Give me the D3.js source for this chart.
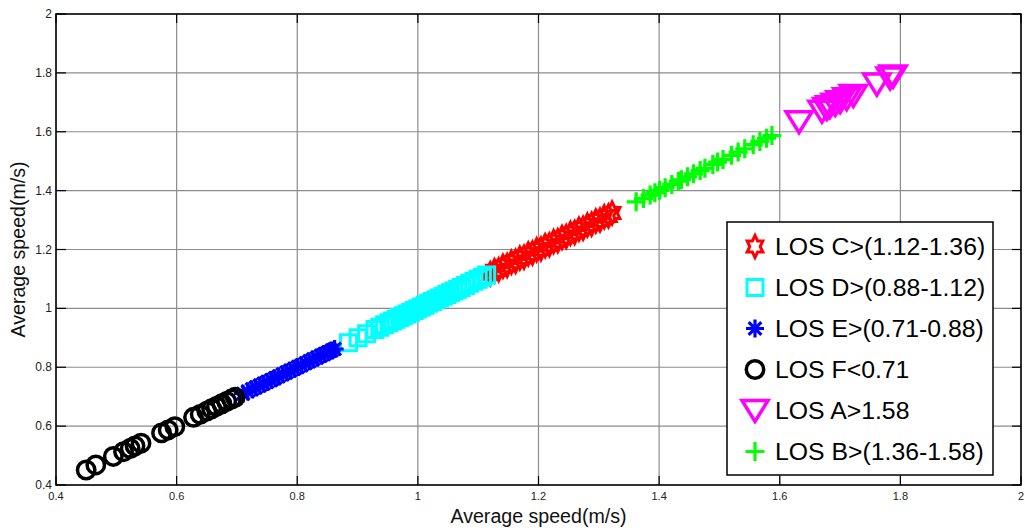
<!DOCTYPE html>
<html>
<head>
<meta charset="utf-8">
<script src="https://cdn.jsdelivr.net/npm/d3@7"></script>
<style>
  html, body { margin: 0; padding: 0; background: #fff; }
  svg { display: block; font-family: Arial, "Liberation Sans", sans-serif; }
</style>
</head>
<body>
<svg id="chart" width="1025" height="531"></svg>
<script>
// values, [average speed x, average speed y]
var losC = [[1.120,1.118],[1.127,1.128],[1.134,1.131],[1.141,1.143],[1.148,1.146],[1.155,1.157],[1.162,1.160],
  [1.169,1.171],[1.176,1.174],[1.183,1.185],[1.190,1.188],[1.197,1.199],[1.204,1.202],[1.211,1.213],[1.218,1.216],
  [1.225,1.227],[1.232,1.230],[1.239,1.241],[1.246,1.244],[1.253,1.255],[1.260,1.258],[1.267,1.269],[1.274,1.272],
  [1.281,1.283],[1.288,1.286],[1.295,1.297],[1.302,1.300],[1.309,1.311],[1.316,1.314],[1.322,1.324]]
var losD = [[0.885,0.883],[0.901,0.900],[0.915,0.914],[0.929,0.928],[0.937,0.936],[0.945,0.944],[0.952,0.951],
  [0.958,0.957],[0.964,0.963],[0.970,0.969],[0.976,0.975],[0.982,0.981],[0.988,0.987],[0.994,0.993],[1.000,0.999],
  [1.006,1.005],[1.012,1.011],[1.018,1.017],[1.024,1.023],[1.030,1.029],[1.036,1.035],[1.042,1.041],[1.048,1.047],
  [1.054,1.053],[1.060,1.059],[1.066,1.065],[1.072,1.071],[1.079,1.078],[1.086,1.085],[1.093,1.092],[1.100,1.099],
  [1.107,1.106],[1.114,1.113]]
var losE = [[0.710,0.710],[0.718,0.718],[0.725,0.725],[0.731,0.731],[0.738,0.738],[0.744,0.744],[0.750,0.750],
  [0.757,0.757],[0.763,0.763],[0.769,0.769],[0.776,0.776],[0.782,0.782],[0.788,0.788],[0.795,0.795],[0.801,0.801],
  [0.807,0.807],[0.814,0.814],[0.820,0.820],[0.826,0.826],[0.833,0.833],[0.839,0.839],[0.845,0.845],[0.851,0.851],
  [0.857,0.857],[0.862,0.862]]
var losF = [[0.450,0.451],[0.466,0.468],[0.495,0.497],[0.512,0.513],[0.523,0.524],[0.531,0.533],[0.541,0.542],
  [0.575,0.577],[0.586,0.587],[0.597,0.598],[0.628,0.630],[0.639,0.640],[0.650,0.651],[0.658,0.659],[0.666,0.667],
  [0.675,0.676],[0.683,0.684],[0.691,0.692],[0.697,0.698]]
var losA = [[1.632,1.634],[1.670,1.670],[1.678,1.679],[1.683,1.685],[1.692,1.693],[1.700,1.702],[1.711,1.712],
  [1.722,1.723],[1.761,1.762],[1.783,1.783],[1.788,1.789]]
var losB = [[1.362,1.362],[1.374,1.373],[1.385,1.385],[1.393,1.393],[1.401,1.401],[1.410,1.410],[1.421,1.421],
  [1.432,1.432],[1.437,1.437],[1.447,1.447],[1.457,1.457],[1.468,1.468],[1.476,1.476],[1.489,1.489],[1.497,1.497],
  [1.506,1.506],[1.520,1.520],[1.531,1.531],[1.542,1.542],[1.556,1.556],[1.567,1.567],[1.578,1.578],[1.587,1.587]]

var legendLabels = ["LOS C>(1.12-1.36)", "LOS D>(0.88-1.12)", "LOS E>(0.71-0.88)", "LOS F<0.71", "LOS A>1.58", "LOS B>(1.36-1.58)"]
var tickVals = [0.4, 0.6, 0.8, 1, 1.2, 1.4, 1.6, 1.8, 2]
var tickLabels = ["0.4", "0.6", "0.8", "1", "1.2", "1.4", "1.6", "1.8", "2"]

var series = [
  { data: losC, marker: "hexagram", color: "#ff0000" },
  { data: losD, marker: "square", color: "#00ffff" },
  { data: losE, marker: "asterisk", color: "#0000ff" },
  { data: losF, marker: "circle", color: "#000000" },
  { data: losA, marker: "triangle", color: "#ff00ff" },
  { data: losB, marker: "plus", color: "#00ff00" }
]

var pL = 56, pT = 14, pR = 1021, pB = 485

var svg = d3.select("#chart")
var x = d3.scaleLinear().domain([0.4, 2]).range([pL, pR])
var y = d3.scaleLinear().domain([0.4, 2]).range([pB, pT])

// grid
svg.append("g").selectAll("line").data(tickVals).enter().append("line")
  .attr("x1", d => x(d)).attr("x2", d => x(d)).attr("y1", pT).attr("y2", pB)
  .attr("stroke", "#8c8c8c").attr("stroke-width", 1.2)
svg.append("g").selectAll("line").data(tickVals).enter().append("line")
  .attr("y1", d => y(d)).attr("y2", d => y(d)).attr("x1", pL).attr("x2", pR)
  .attr("stroke", "#8c8c8c").attr("stroke-width", 1.2)

// ticks on all four sides, pointing in
var tk = svg.append("g").attr("stroke", "#000").attr("stroke-width", 1.2)
tickVals.forEach(function (v) {
  tk.append("line").attr("x1", x(v)).attr("x2", x(v)).attr("y1", pB).attr("y2", pB - 9)
  tk.append("line").attr("x1", x(v)).attr("x2", x(v)).attr("y1", pT).attr("y2", pT + 9)
  tk.append("line").attr("y1", y(v)).attr("y2", y(v)).attr("x1", pL).attr("x2", pL + 10)
  tk.append("line").attr("y1", y(v)).attr("y2", y(v)).attr("x1", pR).attr("x2", pR - 9)
})

svg.append("g").selectAll("text").data(tickVals).enter().append("text")
  .attr("x", d => x(d)).attr("y", pB + 14.5)
  .attr("text-anchor", "middle").attr("font-size", 11).attr("fill", "#222")
  .text((d, i) => tickLabels[i])
svg.append("g").selectAll("text").data(tickVals).enter().append("text")
  .attr("x", pL - 4).attr("y", d => y(d) + 4)
  .attr("text-anchor", "end").attr("font-size", 12).attr("fill", "#222")
  .text((d, i) => tickLabels[i])

function markerPath(type) {
  var p = d3.path()
  if (type == "hexagram") {
    var R = 11, r = R / Math.sqrt(3)
    for (var k = 0; k < 12; k++) {
      var a = -Math.PI / 2 + k * Math.PI / 6
      var rr = k % 2 == 0 ? R : r
      var px = Math.cos(a) * rr * 0.82, py = Math.sin(a) * rr
      if (k == 0) p.moveTo(px, py); else p.lineTo(px, py)
    }
    p.closePath()
  } else if (type == "square") {
    p.rect(-8, -8, 16, 16)
  } else if (type == "asterisk") {
    for (var j = 0; j < 4; j++) {
      var b = j * Math.PI / 4
      p.moveTo(-Math.cos(b) * 9, -Math.sin(b) * 9)
      p.lineTo(Math.cos(b) * 9, Math.sin(b) * 9)
    }
  } else if (type == "circle") {
    p.moveTo(8.7, 0)
    p.arc(0, 0, 8.7, 0, 2 * Math.PI)
  } else if (type == "triangle") {
    p.moveTo(-13, -10); p.lineTo(13, -10); p.lineTo(0, 11); p.closePath()
  } else if (type == "plus") {
    p.moveTo(-9.5, 0); p.lineTo(9.5, 0); p.moveTo(0, -9.5); p.lineTo(0, 9.5)
  }
  return p.toString()
}

function markerWidth(type) {
  if (type == "circle" || type == "triangle") return 3.5
  if (type == "plus" || type == "asterisk") return 3.2
  return 3
}

// markers
series.forEach(function (s) {
  svg.append("g").selectAll("path").data(s.data).enter().append("path")
    .attr("transform", d => "translate(" + x(d[0]) + "," + y(d[1]) + ")")
    .attr("d", markerPath(s.marker))
    .attr("fill", "none").attr("stroke", s.color)
    .attr("stroke-width", markerWidth(s.marker))
})

// box
svg.append("rect").attr("x", pL).attr("y", pT).attr("width", pR - pL).attr("height", pB - pT)
  .attr("fill", "none").attr("stroke", "#000").attr("stroke-width", 1.5)

// axis titles
svg.append("text").attr("x", (pL + pR) / 2).attr("y", 523)
  .attr("text-anchor", "middle").attr("font-size", 19.6).attr("fill", "#111")
  .text("Average speed(m/s)")
svg.append("text").attr("transform", "translate(25," + (pT + pB) / 2 + ") rotate(-90)")
  .attr("text-anchor", "middle").attr("font-size", 19.6).attr("fill", "#111")
  .text("Average speed(m/s)")

// legend
var lg = svg.append("g")
lg.append("rect").attr("x", 727).attr("y", 222).attr("width", 266).attr("height", 253)
  .attr("fill", "#fff").attr("stroke", "#000").attr("stroke-width", 1.5)
var rows = lg.selectAll("g").data(series).enter().append("g")
  .attr("transform", (d, i) => "translate(0," + (246.5 + i * 41) + ")")
rows.append("path")
  .attr("transform", "translate(755,0)")
  .attr("d", d => markerPath(d.marker))
  .attr("fill", "none").attr("stroke", d => d.color)
  .attr("stroke-width", d => markerWidth(d.marker))
rows.append("text").attr("x", 775).attr("y", 8.8)
  .attr("font-size", 24.8).attr("fill", "#000")
  .text((d, i) => legendLabels[i])
</script>
</body>
</html>
